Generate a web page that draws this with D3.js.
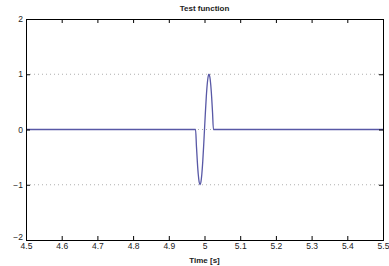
<!DOCTYPE html>
<html>
<head>
<meta charset="utf-8">
<script src="https://cdn.jsdelivr.net/npm/d3@7"></script>
<style>
  body { margin: 0; background: #fff; }
  text { font-family: "Liberation Sans", Arial, sans-serif; }
</style>
</head>
<body>
<div id="chart"></div>
<script>
// values
var timeValues = [4.5, 4.975, 4.9775, 4.98, 4.9825, 4.985, 4.9875, 4.99, 4.9925, 4.995, 4.9975, 5.0,
                  5.0025, 5.005, 5.0075, 5.01, 5.0125, 5.015, 5.0175, 5.02, 5.0225, 5.025, 5.5];
var signalValues = [0, 0, -0.31, -0.59, -0.81, -0.95, -1, -0.95, -0.81, -0.59, -0.31, 0,
                    0.31, 0.59, 0.81, 0.95, 1, 0.95, 0.81, 0.59, 0.31, 0, 0];
var xTicks = [4.5, 4.6, 4.7, 4.8, 4.9, 5, 5.1, 5.2, 5.3, 5.4, 5.5];
var yTicks = [-2, -1, 0, 1, 2];

function init() {
    var w = 389;
    var h = 266;
    var left = 26, right = 383, top = 19, bottom = 240;

    var x = d3.scaleLinear().domain([4.5, 5.5]).range([left, right]);
    var y = d3.scaleLinear().domain([-2, 2]).range([bottom, top]);

    var svg = d3.select("#chart")
                .append("svg")
                .attr("width", w)
                .attr("height", h);

    // dotted y grid
    svg.selectAll("line.grid")
        .data(yTicks.filter(function(d) { return d > -2 && d < 2; }))
        .enter()
        .append("line")
        .attr("class", "grid")
        .attr("x1", left).attr("x2", right)
        .attr("y1", function(d) { return y(d); })
        .attr("y2", function(d) { return y(d); })
        .attr("stroke", "#9a9a9a")
        .attr("stroke-width", 0.8)
        .attr("stroke-dasharray", "1,3");

    // the signal
    var pts = timeValues.map(function(t, i) { return [t, signalValues[i]]; });
    var line = d3.line()
                 .x(function(d) { return x(d[0]); })
                 .y(function(d) { return y(d[1]); })
                 .curve(d3.curveMonotoneX);
    svg.append("path")
        .attr("d", line(pts))
        .attr("fill", "none")
        .attr("stroke", "#5858a6")
        .attr("stroke-width", 1.3);

    // axes, matlab style ticks pointing inward
    var fmt = function(d) { return d3.format("")(d).replace("-", "\u2212"); };
    svg.append("g")
        .attr("transform", "translate(0," + bottom + ")")
        .call(d3.axisBottom(x).tickValues(xTicks).tickSize(-4).tickPadding(3).tickFormat(fmt));
    svg.append("g")
        .attr("transform", "translate(0," + top + ")")
        .call(d3.axisTop(x).tickValues(xTicks).tickSize(-4).tickFormat(""));
    var yAxis = svg.append("g")
        .attr("transform", "translate(" + left + ",0)")
        .call(d3.axisLeft(y).tickValues(yTicks).tickSize(-4).tickPadding(3).tickFormat(fmt));
    svg.append("g")
        .attr("transform", "translate(" + right + ",0)")
        .call(d3.axisRight(y).tickValues(yTicks).tickSize(-4).tickFormat(""));

    svg.selectAll(".domain").attr("stroke", "#000").attr("stroke-width", 1);
    svg.selectAll(".tick line").attr("stroke", "#000");
    svg.selectAll(".tick text")
        .attr("fill", "#222")
        .style("font-size", "8.5px")
        .style("font-family", "Liberation Sans, Arial, sans-serif");

    // lowest y label sits just above the first x label, as in the original
    yAxis.selectAll(".tick text")
        .filter(function(d) { return d === -2; })
        .attr("dy", "-0.05em");

    svg.append("text")
        .attr("x", (left + right) / 2)
        .attr("y", 11)
        .attr("text-anchor", "middle")
        .style("font-size", "8px")
        .style("font-weight", "bold")
        .attr("fill", "#222")
        .text("Test function");

    svg.append("text")
        .attr("x", (left + right) / 2)
        .attr("y", 263)
        .attr("text-anchor", "middle")
        .style("font-size", "8px")
        .style("font-weight", "bold")
        .attr("fill", "#222")
        .text("Time [s]");
}
window.onload = init;
</script>
</body>
</html>
